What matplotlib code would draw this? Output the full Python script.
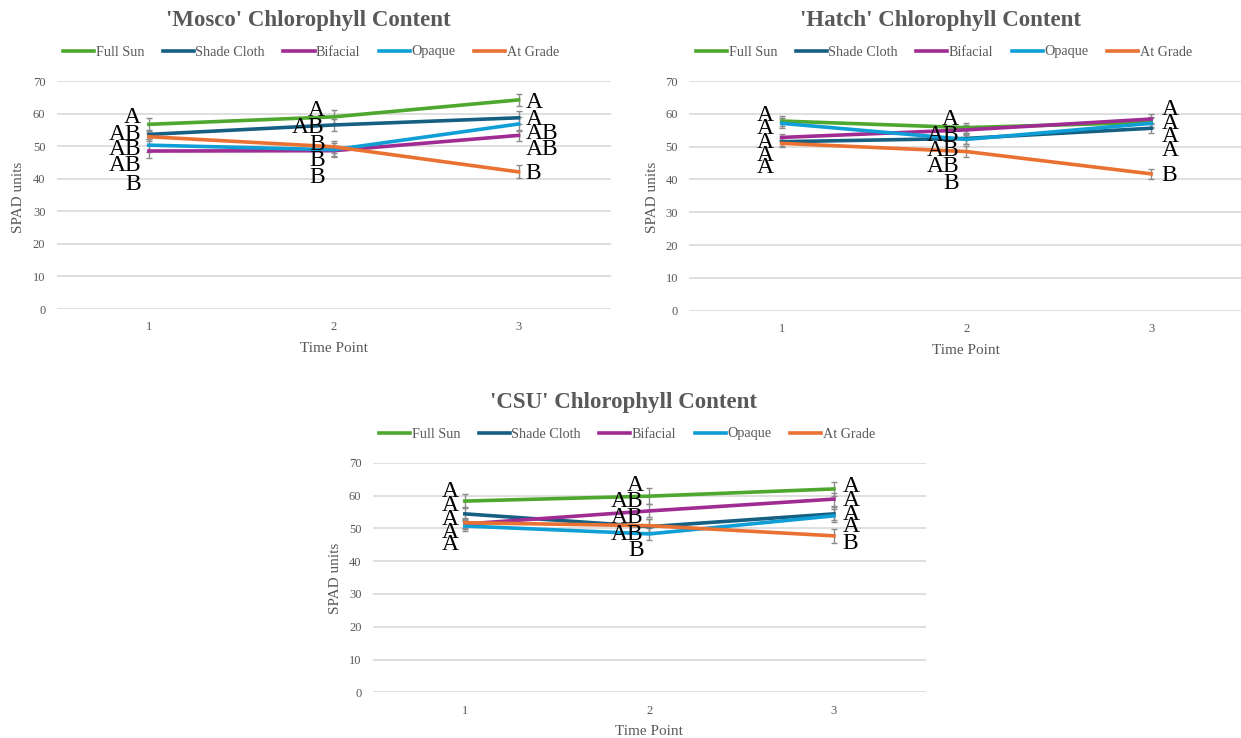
import matplotlib

matplotlib.use("Agg")
import matplotlib.pyplot as plt

plt.rcParams["font.family"] = ["Liberation Serif", "DejaVu Serif"]

TREATMENTS = ["Full Sun", "Shade Cloth", "Bifacial", "Opaque", "At Grade"]
COLORS = ["#4EA72E", "#156082", "#A02B93", "#0F9ED5", "#E97132"]
TIME_POINTS = [1, 2, 3]

# mean SPAD readings per treatment at time points 1-3
MOSCO_MEANS = [
    [56.7, 59.0, 64.2],
    [53.6, 56.5, 58.7],
    [48.5, 48.6, 53.3],
    [50.3, 48.9, 56.8],
    [52.9, 49.8, 42.1],
]
MOSCO_SE = [
    [2.0, 2.1, 1.8],
    [1.5, 1.8, 2.0],
    [2.0, 1.5, 1.8],
    [2.0, 2.2, 2.0],
    [1.2, 1.8, 2.0],
]
MOSCO_LETTERS = [
    ["A", "AB", "AB", "AB", "B"],
    ["A", "AB", "B", "B", "B"],
    ["A", "A", "AB", "AB", "B"],
]

HATCH_MEANS = [
    [57.8, 55.8, 57.4],
    [51.5, 52.5, 55.6],
    [52.8, 55.1, 58.4],
    [57.1, 52.2, 57.1],
    [51.0, 48.5, 41.7],
]
HATCH_SE = [
    [1.5, 1.5, 1.5],
    [1.2, 1.8, 1.5],
    [1.2, 1.5, 1.5],
    [1.5, 1.5, 1.5],
    [1.0, 1.8, 1.5],
]
HATCH_LETTERS = [
    ["A", "A", "A", "A", "A"],
    ["A", "AB", "AB", "AB", "B"],
    ["A", "A", "A", "A", "B"],
]

CSU_MEANS = [
    [58.3, 59.8, 62.0],
    [54.4, 50.5, 54.4],
    [51.3, 55.3, 58.9],
    [50.7, 48.3, 53.8],
    [51.7, 50.8, 47.7],
]
CSU_SE = [
    [2.2, 2.4, 2.2],
    [2.0, 2.2, 2.0],
    [1.5, 2.0, 2.0],
    [1.5, 1.8, 2.0],
    [1.5, 2.0, 2.2],
]
CSU_LETTERS = [
    ["A", "A", "A", "A", "A"],
    ["A", "AB", "AB", "AB", "B"],
    ["A", "A", "A", "A", "B"],
]

# where the significance letters sit: (x, alignment, y values top to bottom)
MOSCO_LETTER_POS = [
    (0.957, "right", [59.6, 54.3, 49.7, 44.8, 39.0]),
    (1.950, "right", [61.6, 56.5, 51.3, 46.3, 41.1]),
    (3.037, "left", [64.2, 58.9, 54.6, 49.7, 42.4]),
]
HATCH_LETTER_POS = [
    (0.957, "right", [60.2, 56.3, 52.0, 48.0, 44.4]),
    (1.960, "right", [58.9, 54.3, 49.5, 44.6, 39.5]),
    (3.058, "left", [62.2, 57.9, 53.8, 49.7, 41.9]),
]
CSU_LETTER_POS = [
    (0.968, "right", [62.0, 57.7, 53.5, 49.5, 45.8]),
    (1.970, "right", [63.7, 58.9, 54.1, 49.0, 44.1]),
    (3.048, "left", [63.4, 59.1, 55.1, 51.3, 46.2]),
]

GREY = "#595959"
W, H = 1241, 738


def px_rect(left, top, right, bottom):
    return [left / W, 1 - bottom / H, (right - left) / W, (bottom - top) / H]


def draw_panel(fig, rect, title, title_xy, legend_xy, ylabel_xy, means, errs,
               letters, letter_pos):
    ax = fig.add_axes(px_rect(*rect))
    for name, color, m, e in zip(TREATMENTS, COLORS, means, errs):
        ax.errorbar(TIME_POINTS, m, yerr=e, color=color, lw=2.6,
                    ecolor="#8C8C8C", elinewidth=1.0, capsize=2.5,
                    capthick=1.0, label=name, zorder=3)
    for (x, ha, ys), labs in zip(letter_pos, letters):
        for y, t in zip(ys, labs):
            ax.text(x, y, t, ha=ha, va="center_baseline", fontsize=17,
                    color="black", zorder=5)

    ax.set_xlim(0.5, 3.5)
    ax.set_ylim(0, 70)
    ax.set_yticks(range(0, 71, 10))
    ax.set_xticks(TIME_POINTS)
    ax.grid(axis="y", color="#D9D9D9", lw=1.2)
    ax.set_axisbelow(True)
    for s in ax.spines.values():
        s.set_visible(False)
    ax.tick_params(length=0, colors=GREY, labelsize=9, pad=8)
    ax.tick_params(axis="x", pad=9)
    ax.set_xlabel("Time Point", color=GREY, fontsize=11, labelpad=6)

    fig.text(ylabel_xy[0] / W, 1 - ylabel_xy[1] / H, "SPAD units",
             rotation=90, ha="center", va="center", color=GREY, fontsize=11)
    fig.text(title_xy[0] / W, 1 - title_xy[1] / H, title, ha="center",
             va="center_baseline", fontsize=16.5, fontweight="bold",
             color=GREY)
    handles, labels = ax.get_legend_handles_labels()
    handles = [h[0] for h in handles]
    ax.legend(handles, labels, loc="center",
              bbox_to_anchor=(legend_xy[0] / W, 1 - legend_xy[1] / H),
              bbox_transform=fig.transFigure, ncol=5, frameon=False,
              fontsize=10.2, labelcolor=GREY, handlelength=2.2,
              handletextpad=0.1, columnspacing=1.3)
    return ax


fig = plt.figure(figsize=(W / 100, H / 100), dpi=100)

draw_panel(fig, (56.5, 81, 611, 309), "'Mosco' Chlorophyll Content",
           (308, 18), (311, 52), (18, 197), MOSCO_MEANS, MOSCO_SE,
           MOSCO_LETTERS, MOSCO_LETTER_POS)
draw_panel(fig, (689.3, 81, 1243.5, 310.7), "'Hatch' Chlorophyll Content",
           (940, 18), (944, 52), (652, 197), HATCH_MEANS, HATCH_SE,
           HATCH_LETTERS, HATCH_LETTER_POS)
draw_panel(fig, (372.6, 462.7, 926.2, 692.3), "'CSU' Chlorophyll Content",
           (624, 400), (627, 434), (335, 578), CSU_MEANS, CSU_SE,
           CSU_LETTERS, CSU_LETTER_POS)

fig.savefig("out.png", dpi=100, facecolor="white")
